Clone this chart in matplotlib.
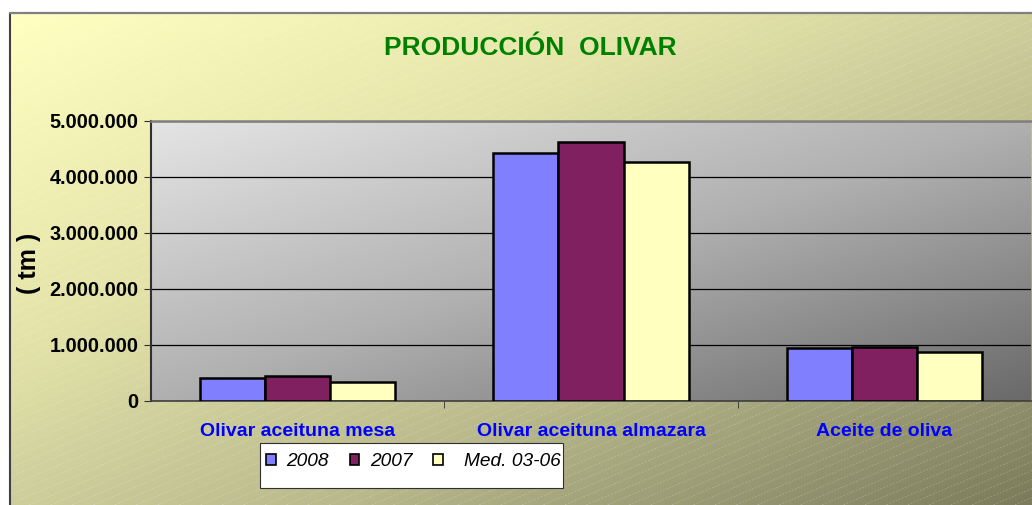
import numpy as np
import matplotlib.pyplot as plt
from matplotlib.colors import LinearSegmentedColormap
from matplotlib.patches import Rectangle, Patch
from matplotlib.ticker import FuncFormatter

plt.rcParams['font.family'] = ['Liberation Sans', 'DejaVu Sans']

categories = ['Olivar aceituna mesa', 'Olivar aceituna almazara', 'Aceite de oliva']
series_names = ['2008', '2007', 'Med. 03-06']
vals_2008 = [410000, 4420000, 940000]
vals_2007 = [450000, 4630000, 970000]
vals_med = [345000, 4260000, 880000]
colors = ['#8080FF', '#802060', '#FFFFC0']

W, H = 1032, 505
fig = plt.figure(figsize=(W / 100, H / 100), dpi=100)

# background (pixel coordinates)
bg = fig.add_axes([0, 0, 1, 1])
bg.set_xlim(0, W)
bg.set_ylim(H, 0)
bg.axis('off')

fx0, fy0 = 10, 13
xx, yy = np.meshgrid(np.linspace(0, 1, 200), np.linspace(0, 1, 100))
t = (xx * 0.5 + yy * 0.5)
bg_cmap = LinearSegmentedColormap.from_list('bg', ['#FFFFC2', '#E4E4AA', '#B8B88C', '#7C7C5C'])
bg.imshow(t, cmap=bg_cmap, extent=[fx0, W, H, fy0], aspect='auto', zorder=0)

# diagonal stripes
frame_clip = Rectangle((fx0, fy0), W - fx0, H - fy0, transform=bg.transData)
for c in np.arange(-500, 1000, 9):
    xs = np.array([fx0, W])
    ys = c - 0.42 * xs
    ln, = bg.plot(xs, ys, color='white', lw=0.6, alpha=0.25, ls=(0, (2, 2)), zorder=1)
    ln.set_clip_path(frame_clip)
bg.add_patch(Rectangle((fx0, fy0), W - fx0 + 5, H - fy0 + 5, fill=False,
                       edgecolor='#404040', lw=1.5, zorder=2))
bg.plot([fx0, W], [fy0, fy0], color='#808080', lw=1.5, zorder=2)

# legend box
bg.add_patch(Rectangle((260, 443), 303, 45, facecolor='white', edgecolor='#303030',
                       lw=0.8, zorder=3))

bg.text(530, 48, 'PRODUCCIÓN  OLIVAR', color='#008000', fontsize=19, fontweight='bold',
        ha='center', va='center', zorder=3)
bg.text(29, 263, '( tm )', color='black', fontsize=18, fontweight='bold',
        rotation=90, ha='center', va='center', zorder=3)

# main plot area
left, right, top, bottom = 151, 1031, 121, 401
ax = fig.add_axes([left / W, (H - bottom) / H, (right - left) / W, (bottom - top) / H])
ax.set_facecolor('none')
pa_cmap = LinearSegmentedColormap.from_list('pa', ['#E4E4E4', '#B0B0B0', '#6A6A6A'])
ax.imshow(t, cmap=pa_cmap, extent=[0, 1, 0, 1], transform=ax.transAxes,
          aspect='auto', zorder=0)

x = np.arange(len(categories))
w = 0.222
for i, (vals, c, name) in enumerate(zip([vals_2008, vals_2007, vals_med], colors, series_names)):
    ax.bar(x + (i - 1) * w, vals, width=w, color=c, edgecolor='black', lw=1.8,
           zorder=3, label=name)

ax.set_xlim(-0.5, 2.5)
ax.set_ylim(0, 5000000)
ax.set_yticks(np.arange(0, 5000001, 1000000))
ax.yaxis.set_major_formatter(FuncFormatter(lambda v, p: f'{int(v):,}'.replace(',', '.')))
ax.grid(axis='y', color='black', lw=0.9, zorder=1)
for gl in ax.get_ygridlines():
    gl.set_zorder(1)

ax.set_xticks(x)
ax.set_xticklabels(categories, color='#0000FF', fontsize=14, fontweight='bold')
ax.set_xticks([0.5, 1.5], minor=True)
ax.tick_params(axis='x', which='major', length=0, pad=16)
ax.tick_params(axis='x', which='minor', length=5, color='#303030', direction='out')
ax.tick_params(axis='y', length=5, color='#303030', pad=4, labelsize=14.3)
for lbl in ax.get_yticklabels():
    lbl.set_fontweight('bold')

ax.spines['left'].set_color('#303030')
ax.spines['left'].set_linewidth(1.5)
ax.spines['bottom'].set_color('#404040')
ax.spines['bottom'].set_linewidth(1.2)
ax.spines['top'].set_color('#808080')
ax.spines['top'].set_linewidth(1.8)
ax.spines['right'].set_visible(False)

handles = [Patch(facecolor=c, edgecolor='black', lw=1.2) for c in colors]
leg = fig.legend(handles, series_names, loc='center left', ncol=3, frameon=False,
                 bbox_to_anchor=(266 / W, (H - 462) / H),
                 prop={'style': 'italic', 'size': 13.8},
                 borderpad=0, borderaxespad=0, handlelength=0.5, handleheight=0.5,
                 handletextpad=0.55, columnspacing=1.1)
# Excel leaves a wider gap before the last entry's text
leg.get_texts()[2].set_position((10, 0))

fig.savefig('out.png', dpi=100)
